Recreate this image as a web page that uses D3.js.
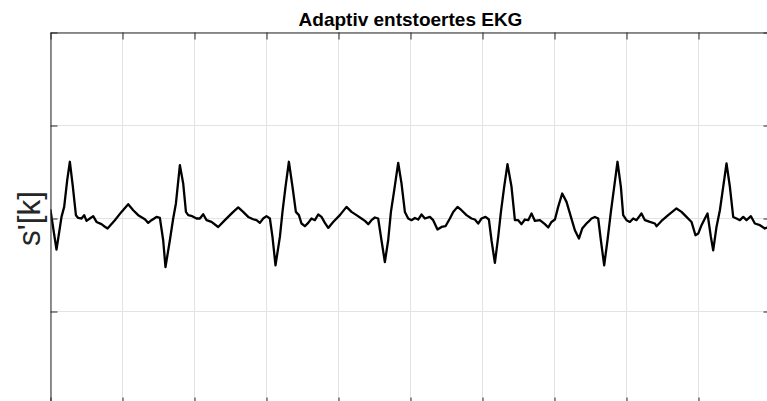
<!DOCTYPE html>
<html>
<head>
<meta charset="utf-8">
<script src="https://cdn.jsdelivr.net/npm/d3@7/dist/d3.min.js"></script>
<style>
  html, body { margin: 0; padding: 0; background: #ffffff; }
  svg { display: block; }
</style>
</head>
<body>
<svg id="chart" width="767" height="401"></svg>
<script>
// Filtered ECG trace: time in seconds, amplitude in mV
const timeSec = [
  0.000, 0.038, 0.083, 0.114, 0.153, 0.190, 0.232, 0.269, 0.308, 0.353,
  0.385, 0.431, 0.468, 0.500, 0.547, 0.593, 0.639, 0.708, 0.746, 0.792,
  0.894, 0.986, 1.079, 1.149, 1.218, 1.311, 1.357, 1.403, 1.472, 1.519,
  1.565, 1.597, 1.658, 1.704, 1.742, 1.797, 1.843, 1.881, 1.913, 1.968,
  2.028, 2.075, 2.121, 2.167, 2.236, 2.329, 2.422, 2.492, 2.538, 2.607,
  2.676, 2.746, 2.815, 2.861, 2.908, 2.954, 3.000, 3.047, 3.083, 3.125,
  3.186, 3.222, 3.264, 3.311, 3.361, 3.408, 3.450, 3.486, 3.533, 3.579,
  3.625, 3.672, 3.718, 3.764, 3.811, 3.857, 3.926, 4.019, 4.111, 4.181,
  4.250, 4.319, 4.367, 4.413, 4.458, 4.506, 4.551, 4.597, 4.644, 4.690,
  4.728, 4.774, 4.829, 4.875, 4.922, 4.968, 5.014, 5.061, 5.107, 5.153,
  5.200, 5.269, 5.315, 5.375, 5.431, 5.486, 5.547, 5.593, 5.653, 5.708,
  5.778, 5.847, 5.894, 5.940, 5.986, 6.042, 6.089, 6.125, 6.172, 6.218,
  6.256, 6.301, 6.347, 6.403, 6.450, 6.496, 6.542, 6.589, 6.635, 6.681,
  6.728, 6.797, 6.867, 6.913, 6.958, 7.006, 7.051, 7.107, 7.167, 7.228,
  7.283, 7.339, 7.385, 7.444, 7.468, 7.514, 7.561, 7.607, 7.644, 7.690,
  7.736, 7.783, 7.829, 7.875, 7.922, 7.954, 8.000, 8.047, 8.093, 8.139,
  8.208, 8.256, 8.325, 8.394, 8.417, 8.486, 8.579, 8.694, 8.764, 8.833,
  8.903, 8.958, 8.996, 9.042, 9.089, 9.125, 9.172, 9.204, 9.250, 9.297,
  9.343, 9.389, 9.436, 9.482, 9.528, 9.575, 9.621, 9.667, 9.728, 9.783,
  9.853, 9.922, 9.954, 10.000
];

const signal = [
   0.089, -0.105, -0.334, -0.180,  0.017,  0.125,  0.413,  0.610,  0.359,  0.036,
   0.006,  0.000,  0.036, -0.026,  0.000,  0.025, -0.037, -0.061, -0.083, -0.108,
  -0.018,  0.071,  0.154,  0.089,  0.036, -0.008, -0.047, -0.018,  0.017,  0.006,
  -0.234, -0.522, -0.234,  0.000,  0.162,  0.574,  0.377,  0.071,  0.036,  0.025,
   0.000,  0.000,  0.046, -0.018, -0.037, -0.091, -0.018,  0.036,  0.071,  0.119,
   0.071,  0.017, -0.008, -0.018, -0.047,  0.000,  0.025,  0.000, -0.198, -0.503,
  -0.198,  0.071,  0.341,  0.610,  0.341,  0.071,  0.036, -0.054, -0.083, -0.047,
   0.000, -0.018,  0.043,  0.017, -0.047, -0.101, -0.037,  0.036,  0.125,  0.071,
   0.036,  0.000, -0.026, -0.061, -0.018,  0.011,  0.000, -0.234, -0.468, -0.234,
   0.071,  0.305,  0.599,  0.377,  0.071,  0.000, -0.018,  0.006, -0.011,  0.043,
   0.000,  0.017, -0.018, -0.119, -0.091, -0.083,  0.000,  0.071,  0.125,  0.089,
   0.036,  0.000, -0.011, -0.054,  0.000,  0.017, -0.011, -0.234, -0.478, -0.198,
   0.071,  0.341,  0.585,  0.341, -0.018, -0.018, -0.061, -0.011, -0.018,  0.054,
  -0.026, -0.018, -0.061, -0.097, -0.037, -0.011,  0.125,  0.269,  0.179,  0.017,
  -0.126, -0.216, -0.108, -0.054, -0.037,  0.000,  0.017,  0.000, -0.234, -0.503,
  -0.234,  0.071,  0.341,  0.610,  0.341,  0.036, -0.018, -0.037,  0.000, -0.018,
   0.054, -0.018, -0.037, -0.054, -0.083, -0.026,  0.036,  0.108,  0.071,  0.017,
  -0.037, -0.180, -0.162, -0.072,  0.000,  0.054, -0.198, -0.342, -0.091,  0.089,
   0.341,  0.593,  0.341,  0.017,  0.000, -0.018,  0.017, -0.018,  0.025, -0.054,
  -0.072, -0.108, -0.097, -0.115
];

// Axis ticks (drawn without labels) and texts
const xTicks = [0, 1, 2, 3, 4, 5, 6, 7, 8, 9, 10];
const yTicks = [-2, -1, 0, 1, 2];
const xDomain = [0, 10];
const yDomain = [-2, 2];
const titleText = "Adaptiv entstoertes EKG";
const yLabelText = "s'[k]";

const svg = d3.select("#chart");
const fontFamily = "'Liberation Sans', Arial, Helvetica, sans-serif";
const axisColor = "#262626";
const gridColor = "#e3e3e3";
const tickLen = 7;

const x = d3.scaleLinear().domain(xDomain).range([50.5, 770.5]);
const y = d3.scaleLinear().domain(yDomain).range([404.5, 32.5]);

const [x0, x1] = x.range();
const [y0, y1] = [y.range()[1], y.range()[0]];

svg.append("defs").append("clipPath").attr("id", "plot-clip")
  .append("rect")
  .attr("x", x0).attr("y", y0)
  .attr("width", x1 - x0).attr("height", y1 - y0);

// Grid lines
const grid = svg.append("g").attr("class", "grid");
grid.selectAll("line.gx").data(xTicks).join("line")
  .attr("class", "gx")
  .attr("x1", d => x(d)).attr("x2", d => x(d))
  .attr("y1", y0).attr("y2", y1)
  .attr("stroke", gridColor).attr("stroke-width", 1);
grid.selectAll("line.gy").data(yTicks).join("line")
  .attr("class", "gy")
  .attr("x1", x0).attr("x2", x1)
  .attr("y1", d => y(d)).attr("y2", d => y(d))
  .attr("stroke", gridColor).attr("stroke-width", 1);

// Signal trace
const pts = timeSec.map((t, i) => [t, signal[i]]);
const line = d3.line().x(d => x(d[0])).y(d => y(d[1]));
svg.append("path")
  .datum(pts)
  .attr("clip-path", "url(#plot-clip)")
  .attr("fill", "none")
  .attr("stroke", "#000000")
  .attr("stroke-width", 2.3)
  .attr("stroke-linejoin", "round")
  .attr("stroke-linecap", "round")
  .attr("d", line);

// Box axes with inward ticks, no tick labels
function styleAxis(g) {
  g.select(".domain").attr("stroke", axisColor).attr("stroke-width", 1);
  g.selectAll(".tick line").attr("stroke", axisColor).attr("stroke-width", 1);
  g.selectAll(".tick text").remove();
}
svg.append("g").attr("transform", `translate(0,${y1})`)
  .call(d3.axisBottom(x).tickValues(xTicks).tickSizeInner(-tickLen).tickSizeOuter(0).tickFormat(""))
  .call(styleAxis);
svg.append("g").attr("transform", `translate(0,${y0})`)
  .call(d3.axisTop(x).tickValues(xTicks).tickSizeInner(-tickLen).tickSizeOuter(0).tickFormat(""))
  .call(styleAxis);
svg.append("g").attr("transform", `translate(${x0},0)`)
  .call(d3.axisLeft(y).tickValues(yTicks).tickSizeInner(-tickLen).tickSizeOuter(0).tickFormat(""))
  .call(styleAxis);
svg.append("g").attr("transform", `translate(${x1},0)`)
  .call(d3.axisRight(y).tickValues(yTicks).tickSizeInner(-tickLen).tickSizeOuter(0).tickFormat(""))
  .call(styleAxis);

// Title
svg.append("text")
  .attr("x", (x0 + x1) / 2)
  .attr("y", 25.7)
  .attr("text-anchor", "middle")
  .attr("font-family", fontFamily)
  .attr("font-weight", "bold")
  .attr("font-size", 19)
  .attr("fill", "#000000")
  .text(titleText);

// Y axis label
svg.append("text")
  .attr("transform", `translate(40, ${y(0)}) rotate(-90)`)
  .attr("text-anchor", "middle")
  .attr("font-family", fontFamily)
  .attr("font-size", 31.5)
  .attr("fill", axisColor)
  .text(yLabelText);
</script>
</body>
</html>
